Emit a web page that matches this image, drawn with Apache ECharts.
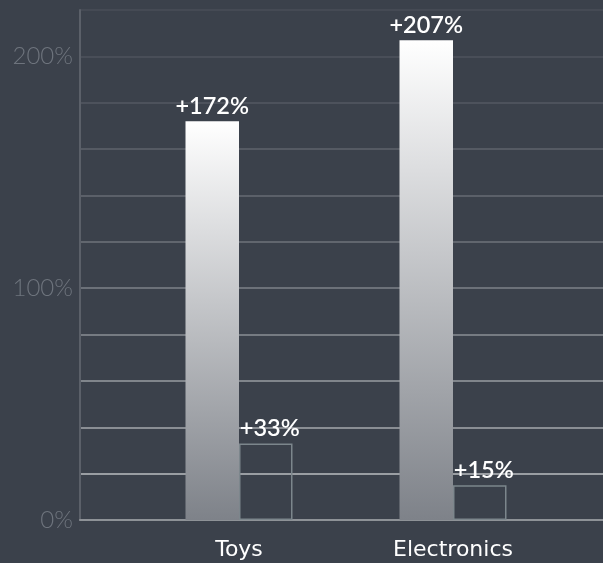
<!DOCTYPE html>
<html>
<head>
<meta charset="utf-8">
<script src="https://cdn.jsdelivr.net/npm/echarts@6/dist/echarts.min.js"></script>
<style>
html,body{margin:0;padding:0;background:#3b414b;}
#c{width:603px;height:563px;}
</style>
</head>
<body>
<div id="c"></div>
<script>
const categories = ['Toys', 'Electronics'];
const growthA = [172, 207];
const growthB = [33, 15];
const yMin = 0, yMax = 220, yStep = 20;
const labeledTicks = [0, 100, 200];

const gridColors = ['#8e9297', '#9a9ea3', '#8a8e94', '#80858b', '#767b82', '#6c7179', '#61666e', '#5b6069', '#555a63', '#4d525c', '#494e58', '#454a54'];

const chart = echarts.init(document.getElementById('c'), null, {renderer: 'canvas'});
const fontFam = 'Lato, "Noto Sans", sans-serif';
chart.setOption({
  backgroundColor: '#3b414b',
  animation: false,
  grid: [
    {left: 80, right: 0, top: 10, bottom: 43},
    {left: 132, right: 43, top: 10, bottom: 43}
  ],
  xAxis: [
    {gridIndex: 0, type: 'category', data: [''], axisLine: {show: true, lineStyle: {color: '#8e9297', width: 2}},
     axisTick: {show: false}, axisLabel: {show: false}, splitLine: {show: false}},
    {gridIndex: 1, type: 'category', data: categories, axisLine: {show: false}, axisTick: {show: false},
     axisLabel: {color: '#ffffff', fontSize: 22, fontFamily: '"DejaVu Sans", sans-serif', fontWeight: 'normal', margin: 19}}
  ],
  yAxis: [
    {gridIndex: 0, type: 'value', min: yMin, max: yMax, interval: yStep,
     axisLine: {show: true, lineStyle: {color: '#5b6069', width: 2}},
     axisTick: {show: false},
     splitLine: {show: true, lineStyle: {color: gridColors, width: 2}},
     axisLabel: {
       color: '#6e747d', fontSize: 24, fontFamily: fontFam, fontWeight: 300, margin: 7,
       padding: [0, 0, 10, 0],
       formatter: v => labeledTicks.indexOf(v) >= 0 ? v + '%' : ''
     }},
    {gridIndex: 1, type: 'value', min: yMin, max: yMax, interval: yStep, show: false, splitLine: {show: false}}
  ],
  series: [
    {
      type: 'bar', xAxisIndex: 1, yAxisIndex: 1, data: growthA, barWidth: 53.5, barGap: '0%',
      itemStyle: {color: new echarts.graphic.LinearGradient(0, 0, 0, 1, [
        {offset: 0, color: '#ffffff'}, {offset: 1, color: '#7e8289'}])},
      label: {show: true, position: 'top', distance: 3, color: '#ffffff', fontSize: 23.5, fontFamily: fontFam, fontWeight: 600,
        formatter: p => '+' + p.value + '%'}
    },
    {
      type: 'bar', xAxisIndex: 1, yAxisIndex: 1, data: growthB, barWidth: 53.5, barGap: '0%',
      itemStyle: {color: 'rgba(0,0,0,0)', borderColor: '#7c868c', borderWidth: 1.5},
      label: {show: true, position: 'top', distance: 3, color: '#ffffff', fontSize: 23.5, fontFamily: fontFam, fontWeight: 600,
        formatter: p => '+' + p.value + '%', offset: [4, 0]}
    }
  ]
});
</script>
</body>
</html>
